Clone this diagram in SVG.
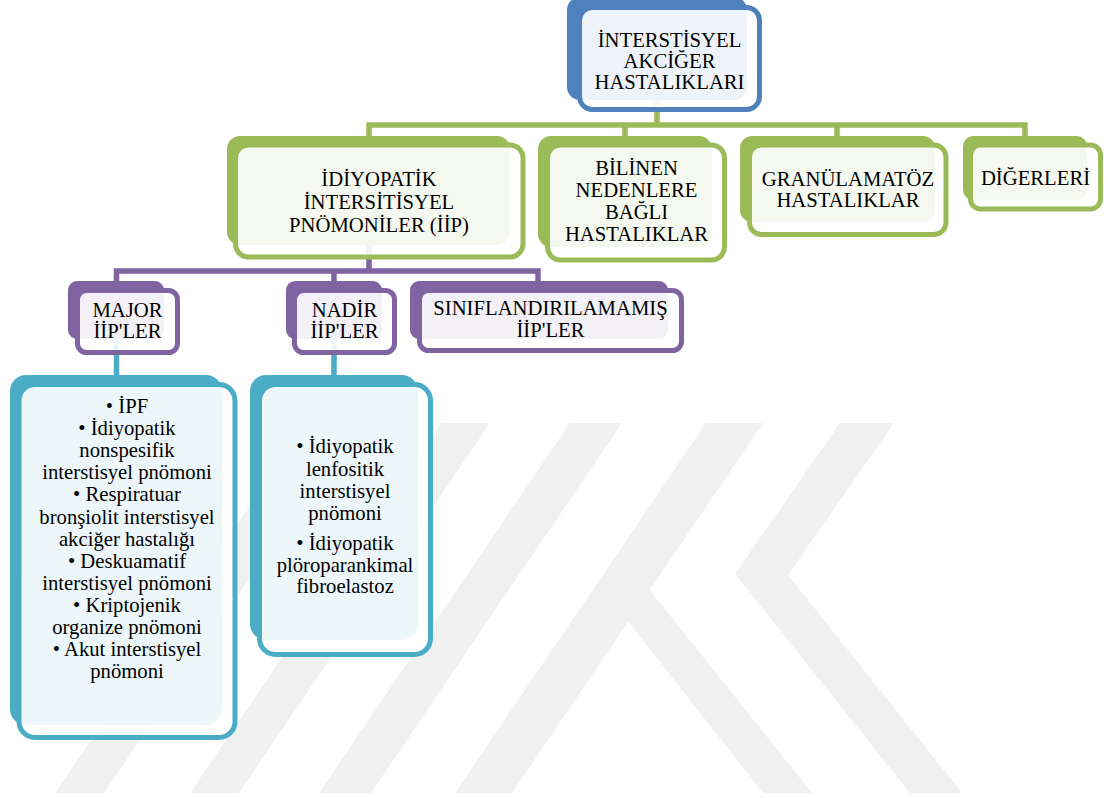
<svg xmlns="http://www.w3.org/2000/svg" width="1109" height="798" viewBox="0 0 1109 798">
  <style>
    .wm { fill: #f0f0f0; }
    .bg-blue { fill: #4f81bd; }
    .bg-green { fill: #9bbb59; }
    .bg-purple { fill: #8064a2; }
    .bg-teal { fill: #4bacc6; }
    .fr { fill: #ffffff; fill-opacity: 0.9; stroke-width: 5; }
    .fr-blue { stroke: #4f81bd; }
    .fr-green { stroke: #9bbb59; }
    .fr-purple { stroke: #8064a2; }
    .fr-teal { stroke: #4bacc6; }
    .ln { fill: none; stroke-width: 5.5; stroke-linejoin: miter; stroke-linecap: butt; }
    .ln-green { stroke: #9bbb59; }
    .ln-purple { stroke: #8064a2; }
    .ln-teal { stroke: #4bacc6; }
    text { font-family: "Liberation Serif", "Times New Roman", serif; font-size: 20.7px; fill: #000000; text-anchor: middle; }
  </style>

  <rect width="1109" height="798" fill="#ffffff"/>

  <!-- faint background emblem -->
  <g id="emblem">
    <polygon class="wm" points="306,423 355,423 104,793 55,793"/>
    <polygon class="wm" points="441,423 490,423 239,793 190,793"/>
    <polygon class="wm" points="570,423 622,423 371,793 319,793"/>
    <polygon class="wm" points="706,423 763,423 512,793 455,793"/>
    <polygon class="wm" points="840,423 894,423 788,575 962,793 910,793 735,574"/>
    <polygon class="wm" points="763,793 812,793 648,588 626,619"/>
  </g>

  <!-- connectors -->
  <g id="connectors">
    <path class="ln ln-green" d="M657,98 V125"/>
    <path class="ln ln-green" d="M369,137 V125 H1025 V137"/>
    <path class="ln ln-green" d="M625,125 V137"/>
    <path class="ln ln-green" d="M837,125 V137"/>
    <path class="ln ln-purple" d="M369,243 V271"/>
    <path class="ln ln-purple" d="M116.5,282 V271 H538 V282"/>
    <path class="ln ln-purple" d="M334,271 V282"/>
    <path class="ln ln-teal" d="M116.5,337 V376"/>
    <path class="ln ln-teal" d="M334,337 V376"/>
  </g>

  <!-- top level -->
  <g id="node-root">
    <rect class="bg-blue" x="567" y="-3" width="180" height="103" rx="13"/>
    <rect class="fr fr-blue" x="579.5" y="7.5" width="180" height="102" rx="13"/>
    <text x="669.5" y="47">İNTERSTİSYEL</text>
    <text x="669.5" y="68">AKCİĞER</text>
    <text x="669.5" y="89">HASTALIKLARI</text>
  </g>

  <!-- second level -->
  <g id="node-iip">
    <rect class="bg-green" x="227" y="136" width="283" height="109" rx="13"/>
    <rect class="fr fr-green" x="235.5" y="145" width="287.5" height="112" rx="13"/>
    <text x="379" y="186">İDİYOPATİK</text>
    <text x="379" y="209">İNTERSİTİSYEL</text>
    <text x="379" y="232">PNÖMONİLER (İİP)</text>
  </g>

  <g id="node-bilinen">
    <rect class="bg-green" x="538" y="136" width="174" height="111" rx="13"/>
    <rect class="fr fr-green" x="547.5" y="145" width="177" height="115" rx="13"/>
    <text x="636.5" y="175">BİLİNEN</text>
    <text x="636.5" y="197">NEDENLERE</text>
    <text x="636.5" y="219">BAĞLI</text>
    <text x="636.5" y="241">HASTALIKLAR</text>
  </g>

  <g id="node-granulamatoz">
    <rect class="bg-green" x="740" y="136" width="195" height="86" rx="12"/>
    <rect class="fr fr-green" x="749.5" y="145" width="196.5" height="89.5" rx="12"/>
    <text x="848" y="186">GRANÜLAMATÖZ</text>
    <text x="848" y="207">HASTALIKLAR</text>
  </g>

  <g id="node-digerleri">
    <rect class="bg-green" x="963" y="136" width="124" height="64" rx="10"/>
    <rect class="fr fr-green" x="970.5" y="145" width="130" height="64" rx="10"/>
    <text x="1035.5" y="185">DİĞERLERİ</text>
  </g>

  <!-- third level -->
  <g id="node-major">
    <rect class="bg-purple" x="68" y="281" width="96" height="58" rx="9"/>
    <rect class="fr fr-purple" x="77.5" y="290.5" width="100" height="62" rx="9"/>
    <text x="127.5" y="317">MAJOR</text>
    <text x="127.5" y="338">İİP'LER</text>
  </g>

  <g id="node-nadir">
    <rect class="bg-purple" x="286" y="281" width="96" height="58" rx="9"/>
    <rect class="fr fr-purple" x="294.5" y="290.5" width="100" height="62" rx="9"/>
    <text x="344.5" y="317">NADİR</text>
    <text x="344.5" y="338">İİP'LER</text>
  </g>

  <g id="node-siniflandirilamamis">
    <rect class="bg-purple" x="410" y="281" width="258" height="58" rx="9"/>
    <rect class="fr fr-purple" x="419.5" y="290.5" width="262" height="60" rx="9"/>
    <text x="550.5" y="315">SINIFLANDIRILAMAMIŞ</text>
    <text x="550.5" y="337">İİP'LER</text>
  </g>

  <!-- fourth level: lists -->
  <g id="node-major-list">
    <rect class="bg-teal" x="10" y="375" width="212" height="350" rx="16"/>
    <rect class="fr fr-teal" x="19" y="384.5" width="216" height="353" rx="16"/>
    <text x="127" y="413">• İPF</text>
    <text x="127" y="435">• İdiyopatik</text>
    <text x="127" y="457">nonspesifik</text>
    <text x="127" y="479">interstisyel pnömoni</text>
    <text x="127" y="501">• Respiratuar</text>
    <text x="127" y="524">bronşiolit interstisyel</text>
    <text x="127" y="546">akciğer hastalığı</text>
    <text x="127" y="568">• Deskuamatif</text>
    <text x="127" y="590">interstisyel pnömoni</text>
    <text x="127" y="612">• Kriptojenik</text>
    <text x="127" y="634">organize pnömoni</text>
    <text x="127" y="656">• Akut interstisyel</text>
    <text x="127" y="678">pnömoni</text>
  </g>

  <g id="node-nadir-list">
    <rect class="bg-teal" x="250" y="375" width="168" height="265" rx="16"/>
    <rect class="fr fr-teal" x="259.5" y="384.5" width="171" height="270" rx="16"/>
    <text x="345" y="453">• İdiyopatik</text>
    <text x="345" y="476">lenfositik</text>
    <text x="345" y="498">interstisyel</text>
    <text x="345" y="520">pnömoni</text>
    <text x="345" y="550">• İdiyopatik</text>
    <text x="345" y="572">plöroparankimal</text>
    <text x="345" y="593">fibroelastoz</text>
  </g>
</svg>
